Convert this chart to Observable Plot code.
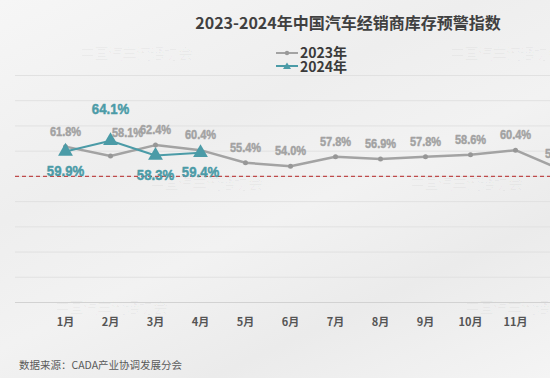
<!DOCTYPE html>
<html>
<head>
<meta charset="utf-8">
<script src="https://cdn.jsdelivr.net/npm/d3@7"></script>
<script src="https://cdn.jsdelivr.net/npm/@observablehq/plot@0.6"></script>
<style>
  html, body { margin: 0; padding: 0; }
  body {
    width: 550px; height: 378px; overflow: hidden; position: relative;
    background: linear-gradient(155deg, #f6f6f6 0%, #eeeeee 35%, #f2f2f2 55%, #ebebeb 75%, #f4f4f4 100%);
    font-family: "Noto Sans CJK SC", "Noto Sans", sans-serif;
  }
  #chart { position: absolute; left: 0; top: 0; width: 600px; height: 378px; }
  #chart svg { max-width: none !important; }
  .wm { position: absolute; font-family: "Noto Sans CJK SC", serif; font-size: 15px; color: rgba(0,0,0,0.03); white-space: nowrap; letter-spacing: -1px; }
  #title { position: absolute; left: 73px; width: 550px; top: 10px; text-align: center; font-size: 16px; font-weight: bold; color: #404040; white-space: nowrap; }
  #legend { position: absolute; left: 276px; top: 46px; font-size: 14px; font-weight: bold; color: #3a3a3a; line-height: 13.5px; }
  #legend div { display: flex; align-items: center; height: 13.5px; }
  #legend svg { margin-right: 2px; }
  #source { position: absolute; left: 19px; top: 357px; font-size: 10.5px; color: #5a5a5a; white-space: nowrap; }
</style>
</head>
<body>
<div class="wm" style="left:80px;top:42px;">中国汽车流通协会</div>
<div class="wm" style="left:450px;top:42px;">中国汽车流通协会</div>
<div class="wm" style="left:150px;top:172px;">中国汽车流通协会</div>
<div class="wm" style="left:410px;top:172px;">中国汽车流通协会</div>
<div class="wm" style="left:55px;top:296px;">中国汽车流通协会</div>
<div class="wm" style="left:465px;top:296px;">中国汽车流通协会</div>
<div id="chart"></div>
<div id="title"></div>
<div id="legend"></div>
<div id="source"></div>
<script>
const titleText = "2023-2024年中国汽车经销商库存预警指数";
const sourceText = "数据来源：CADA产业协调发展分会";
const months = ["1月","2月","3月","4月","5月","6月","7月","8月","9月","10月","11月","12月"];
const seriesNames = ["2023年", "2024年"];
const values2023 = [61.8, 58.1, 62.4, 60.4, 55.4, 54.0, 57.8, 56.9, 57.8, 58.6, 60.4, 52.8];
const values2024 = [59.9, 64.1, 58.3, 59.4];
const yTicks = [10, 20, 30, 40, 50, 60, 70, 80, 90];
const warningLevel = [50];

const grey = "#a3a3a3", teal = "#4b9ba7", labelGrey = "#a2a2a2";
const numFont = "'Liberation Sans', Arial, sans-serif";

const d2023 = months.map((m, i) => ({month: m, value: values2023[i]}));
const d2024 = values2024.map((v, i) => ({month: months[i], value: v}));
const fmt = d => d.value.toFixed(1) + "%";

document.getElementById("title").textContent = titleText;
document.getElementById("source").textContent = sourceText;
const leg = document.getElementById("legend");
leg.innerHTML =
  `<div><svg width="22" height="10"><line x1="0" y1="5" x2="22" y2="5" stroke="${grey}" stroke-width="2"/><circle cx="11" cy="5" r="2.2" fill="#999"/></svg><span>${seriesNames[0]}</span></div>` +
  `<div><svg width="22" height="10"><line x1="0" y1="5" x2="22" y2="5" stroke="${teal}" stroke-width="2"/><path d="M11,1.5 L15,8 L7,8 Z" fill="${teal}"/></svg><span>${seriesNames[1]}</span></div>`;

const lab = (fill, size) => ({x: "month", y: "value", text: fmt, fill, stroke: fill, strokeWidth: 0.45, fontSize: size, fontWeight: "bold", fontFamily: numFont, className: "narrow"});

const chart = Plot.plot({
  width: 600,
  height: 378,
  marginTop: 75,
  marginBottom: 76,
  marginLeft: 15,
  marginRight: 0,
  style: {background: "transparent", overflow: "visible", maxWidth: "none"},
  x: {type: "point", domain: months, range: [62, 562.5], padding: 0, axis: null},
  y: {domain: [0, 90], axis: null},
  marks: [
    Plot.ruleY(yTicks, {stroke: "#e1e1e1", strokeWidth: 1}),
    Plot.ruleY([0], {stroke: "#d2d2d2", strokeWidth: 1}),
    Plot.ruleY(warningLevel, {stroke: "#bf4b4b", strokeWidth: 1.2, strokeDasharray: "4,3"}),
    Plot.axisX({ticks: months.slice(0, 11), tickSize: 0, tickPadding: 16, fontSize: 11, fontWeight: "bold", fill: "#555", fontFamily: "'Noto Sans CJK SC', sans-serif", label: null}),
    Plot.line(d2023, {x: "month", y: "value", stroke: grey, strokeWidth: 2.5}),
    Plot.dot(d2023, {x: "month", y: "value", r: 2.5, fill: "#979797"}),
    Plot.line(d2024, {x: "month", y: "value", stroke: teal, strokeWidth: 2}),
    Plot.dot(d2024, {x: "month", y: "value", symbol: "triangle", r: 5.5, fill: teal}),
    Plot.text(d2023.filter(d => d.month !== "2月"), {...lab(labelGrey, 12.5), dy: -15}),
    Plot.text(d2023.filter(d => d.month === "2月"), {...lab(labelGrey, 12.5), dx: 17, dy: -23}),
    Plot.text(d2024.filter(d => d.month === "2月"), {...lab(teal, 15), dy: -32}),
    Plot.text(d2024.filter(d => d.month !== "2月"), {...lab(teal, 15), dy: 20})
  ]
});
document.getElementById("chart").appendChild(chart);

// condense the value labels horizontally around their own centers
chart.querySelectorAll(".narrow text").forEach(t => {
  const b = t.getBBox();
  const cx = b.x + b.width / 2;
  const prev = t.getAttribute("transform") || "";
  t.setAttribute("transform", `${prev} translate(${cx},0) scale(0.88,1) translate(${-cx},0)`.trim());
});
</script>
</body>
</html>
